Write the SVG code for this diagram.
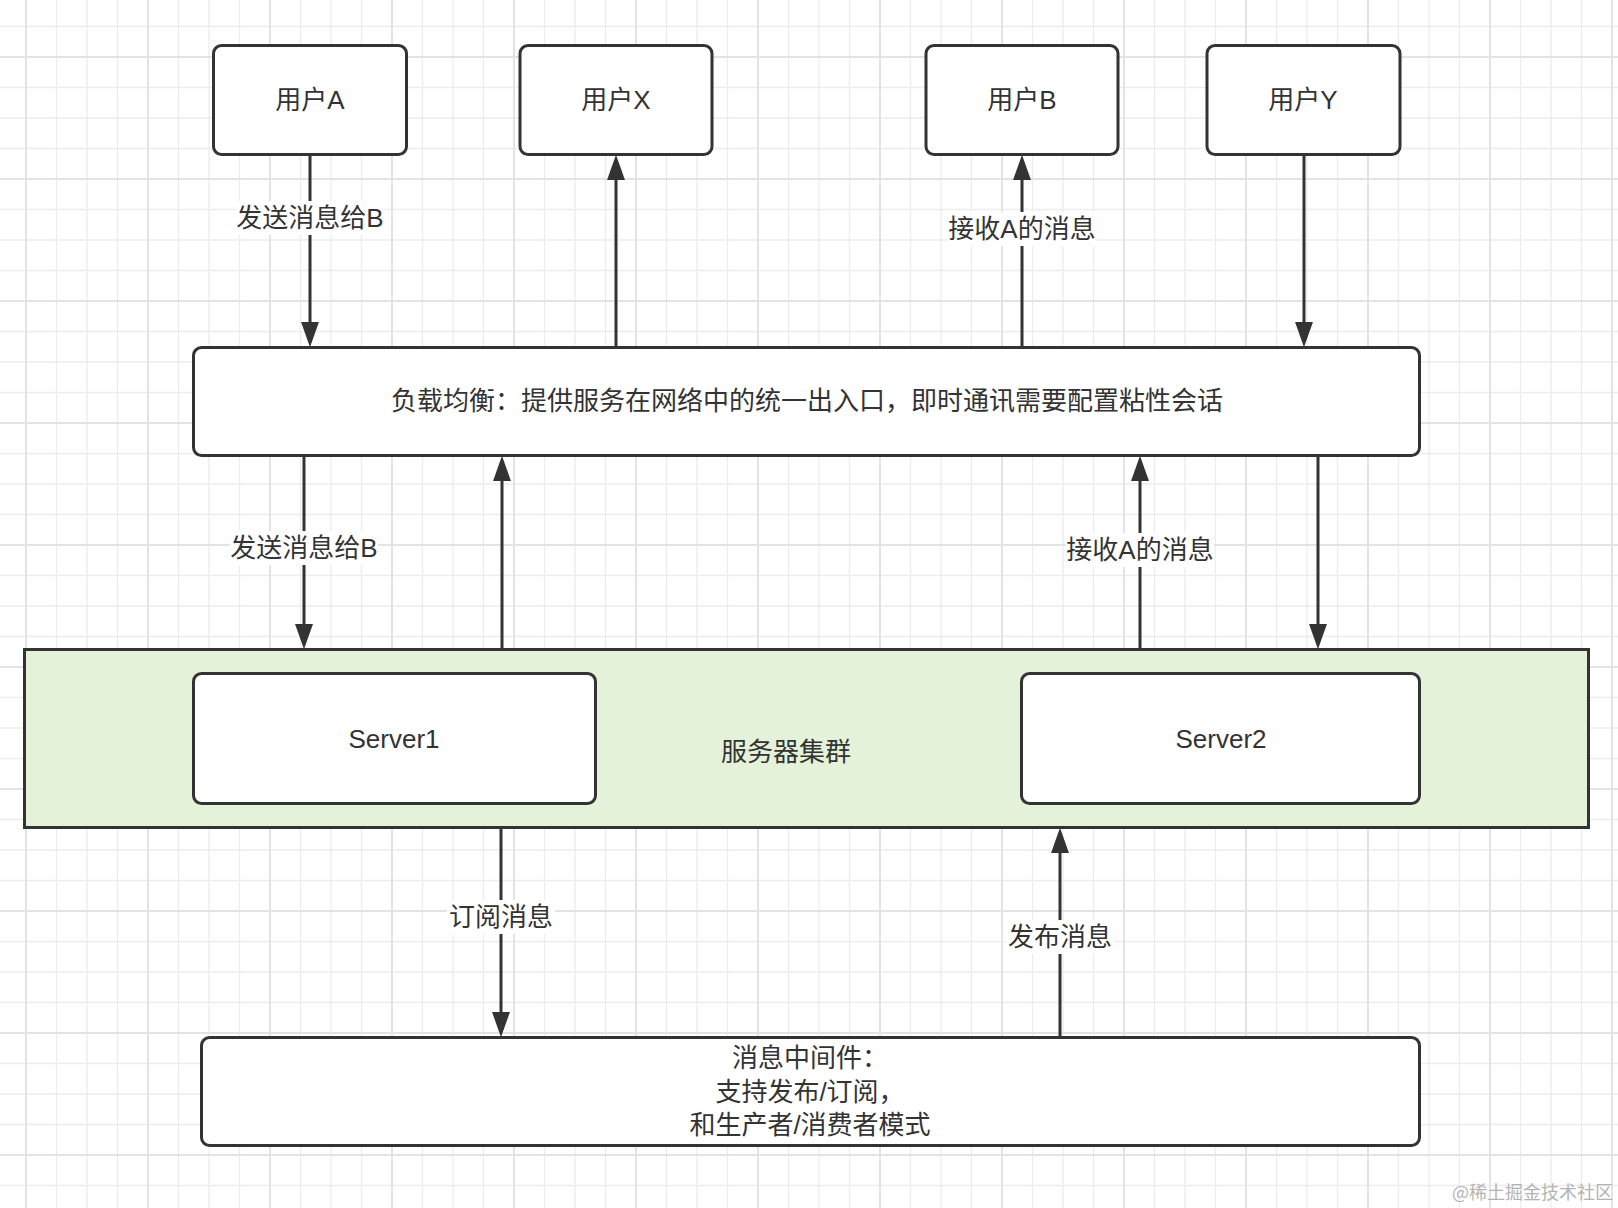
<svg xmlns="http://www.w3.org/2000/svg" width="1618" height="1208" viewBox="0 0 1618 1208">
  <style>
    .box { fill: #ffffff; stroke: #333333; stroke-width: 3; }
    .cluster { fill: #e4f2da; stroke: #333333; stroke-width: 3; }
    .txt { font-family: "Liberation Sans", "Noto Sans CJK SC", sans-serif; font-size: 26px; fill: #333333; text-anchor: middle; dominant-baseline: central; }
    .edge { stroke: #333333; stroke-width: 3; fill: none; marker-end: url(#arrow); }
    .lblbg { fill: #ffffff; }
    .wm { font-family: "Noto Sans CJK SC", sans-serif; font-size: 18px; fill: #b4b4b4; }
  </style>
  <defs>
    <pattern id="grid" x="25" y="56" width="122" height="122" patternUnits="userSpaceOnUse">
      <rect width="122" height="122" fill="#ffffff"/>
      <g stroke="#ededed" stroke-width="1.3">
        <line x1="31.5" y1="0" x2="31.5" y2="122"/>
        <line x1="62" y1="0" x2="62" y2="122"/>
        <line x1="92.5" y1="0" x2="92.5" y2="122"/>
        <line x1="0" y1="31.5" x2="122" y2="31.5"/>
        <line x1="0" y1="62" x2="122" y2="62"/>
        <line x1="0" y1="92.5" x2="122" y2="92.5"/>
      </g>
      <g stroke="#e3e3e3" stroke-width="2">
        <line x1="1" y1="0" x2="1" y2="122"/>
        <line x1="0" y1="1" x2="122" y2="1"/>
      </g>
    </pattern>
    <marker id="arrow" markerUnits="userSpaceOnUse" markerWidth="26" markerHeight="18" viewBox="0 0 24 17" refX="19" refY="8.5" orient="auto">
      <path d="M0,0 L24,8.5 L0,17 Z" fill="#333333"/>
    </marker>
  </defs>

  <rect x="0" y="0" width="1618" height="1208" fill="url(#grid)"/>

  <g id="cluster">
    <rect class="cluster" x="24.5" y="649.5" width="1564" height="178"/>
    <text class="txt" x="786" y="752">服务器集群</text>
  </g>

  <g id="userA">
    <rect class="box" x="213.5" y="45.5" width="193" height="109" rx="8"/>
    <text class="txt" x="310" y="100">用户A</text>
  </g>
  <g id="userX">
    <rect class="box" x="520" y="45.5" width="192" height="109" rx="8"/>
    <text class="txt" x="616" y="100">用户X</text>
  </g>
  <g id="userB">
    <rect class="box" x="926" y="45.5" width="192" height="109" rx="8"/>
    <text class="txt" x="1022" y="100">用户B</text>
  </g>
  <g id="userY">
    <rect class="box" x="1207" y="45.5" width="193" height="109" rx="8"/>
    <text class="txt" x="1303" y="100">用户Y</text>
  </g>

  <g id="loadBalancer">
    <rect class="box" x="193.5" y="347.5" width="1226" height="108" rx="8"/>
    <text class="txt" x="807" y="401">负载均衡：提供服务在网络中的统一出入口，即时通讯需要配置粘性会话</text>
  </g>

  <g id="server1">
    <rect class="box" x="193.5" y="673.5" width="402" height="130" rx="8"/>
    <text class="txt" x="394" y="739">Server1</text>
  </g>
  <g id="server2">
    <rect class="box" x="1021.5" y="673.5" width="398" height="130" rx="8"/>
    <text class="txt" x="1221" y="739">Server2</text>
  </g>

  <g id="messageQueue">
    <rect class="box" x="201.5" y="1037.5" width="1218" height="108" rx="8"/>
    <text class="txt" x="810" y="1058">消息中间件：</text>
    <text class="txt" x="810" y="1092">支持发布/订阅，</text>
    <text class="txt" x="810" y="1125">和生产者/消费者模式</text>
  </g>

  <g id="connectors">
    <line class="edge" x1="310" y1="155" x2="310" y2="342"/>
    <line class="edge" x1="616" y1="347" x2="616" y2="160"/>
    <line class="edge" x1="1022" y1="347" x2="1022" y2="160"/>
    <line class="edge" x1="1304" y1="155" x2="1304" y2="342"/>

    <line class="edge" x1="304" y1="456" x2="304" y2="644"/>
    <line class="edge" x1="502" y1="649" x2="502" y2="461"/>
    <line class="edge" x1="1140" y1="649" x2="1140" y2="461"/>
    <line class="edge" x1="1318" y1="456" x2="1318" y2="644"/>

    <line class="edge" x1="501" y1="828" x2="501" y2="1032"/>
    <line class="edge" x1="1060" y1="1037" x2="1060" y2="833"/>

    <g id="edge-labels">
      <rect class="lblbg" x="236" y="201" width="148" height="34"/>
      <text class="txt" x="310" y="218">发送消息给B</text>
      <rect class="lblbg" x="948" y="212" width="148" height="34"/>
      <text class="txt" x="1022" y="229">接收A的消息</text>
      <rect class="lblbg" x="230" y="531" width="148" height="34"/>
      <text class="txt" x="304" y="548">发送消息给B</text>
      <rect class="lblbg" x="1066" y="533" width="148" height="34"/>
      <text class="txt" x="1140" y="550">接收A的消息</text>
      <rect class="lblbg" x="447" y="900" width="108" height="34"/>
      <text class="txt" x="501" y="917">订阅消息</text>
      <rect class="lblbg" x="1006" y="920" width="108" height="34"/>
      <text class="txt" x="1060" y="937">发布消息</text>
    </g>
  </g>

  <text class="wm" x="1452" y="1199">@稀土掘金技术社区</text>
</svg>
